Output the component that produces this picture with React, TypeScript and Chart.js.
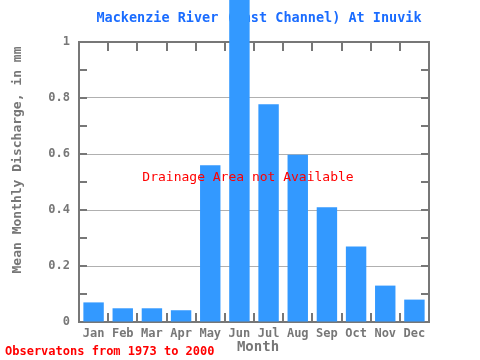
import React, { useEffect, useRef } from "react";
import { Chart, registerables } from "chart.js";

Chart.register(...registerables);

const months = ["Jan", "Feb", "Mar", "Apr", "May", "Jun", "Jul", "Aug", "Sep", "Oct", "Nov", "Dec"];
const discharge = [0.07, 0.049, 0.049, 0.042, 0.56, 1.2, 0.778, 0.597, 0.41, 0.27, 0.13, 0.08];
const titleText = "Mackenzie River (East Channel) At Inuvik";
const yTitle = "Mean Monthly Discharge, in mm";
const xTitle = "Month";
const footerText = "Observatons from 1973 to 2000";
const noteText = "Drainage Area not Available";

const MONO = "'DejaVu Sans Mono', monospace";
const AXIS = "#777777";

const decor = {
  id: "decor",
  beforeDatasetsDraw(chart: any) {
    const ctx = chart.ctx;
    const a = chart.chartArea;
    const y = chart.scales.y;
    ctx.save();
    ctx.font = `bold 13.5px ${MONO}`;
    ctx.fillStyle = "#1a6cff";
    ctx.textAlign = "center";
    ctx.textBaseline = "middle";
    ctx.fillText(titleText, 259, 18);
    ctx.strokeStyle = AXIS;
    ctx.lineWidth = 2;
    ctx.strokeRect(a.left, a.top, a.right - a.left, a.bottom - a.top);
    ctx.beginPath();
    for (let i = 0; i <= 10; i++) {
      const py = Math.round(y.getPixelForValue(i / 10));
      ctx.moveTo(a.left, py);
      ctx.lineTo(a.left + 8, py);
      ctx.moveTo(a.right, py);
      ctx.lineTo(a.right - 8, py);
    }
    const n = months.length;
    const w = (a.right - a.left) / n;
    for (let i = 0; i <= n; i++) {
      const px = Math.round(a.left + i * w);
      ctx.moveTo(px, a.bottom);
      ctx.lineTo(px, a.bottom - 9);
      ctx.moveTo(px, a.top);
      ctx.lineTo(px, a.top + 9);
    }
    ctx.stroke();
    ctx.restore();
  },
  afterDatasetsDraw(chart: any) {
    const ctx = chart.ctx;
    ctx.save();
    ctx.textBaseline = "middle";
    ctx.font = `13px ${MONO}`;
    ctx.fillStyle = "#ff0000";
    ctx.textAlign = "center";
    ctx.fillText(noteText, 248, 178);
    ctx.font = `bold 12px ${MONO}`;
    ctx.textAlign = "left";
    ctx.fillText(footerText, 5, 352);
    ctx.font = `bold 14px ${MONO}`;
    ctx.fillStyle = AXIS;
    ctx.textAlign = "center";
    ctx.fillText(xTitle, 258, 347);
    ctx.translate(18, 160);
    ctx.rotate(-Math.PI / 2);
    ctx.font = `bold 13px ${MONO}`;
    ctx.fillText(yTitle, 0, 0);
    ctx.restore();
  },
};

export default function App() {
  const ref = useRef<HTMLCanvasElement>(null);
  useEffect(() => {
    if (!ref.current) return;
    const chart = new Chart(ref.current, {
      type: "bar",
      data: {
        labels: months,
        datasets: [
          {
            data: discharge,
            backgroundColor: "#3399ff",
            borderWidth: 0,
            barPercentage: 0.7,
            categoryPercentage: 1,
            clip: false as any,
          },
        ],
      },
      options: {
        responsive: false,
        animation: false,
        devicePixelRatio: 1,
        layout: { padding: { top: 42, right: 51, left: 0, bottom: 0 } },
        plugins: { legend: { display: false }, tooltip: { enabled: false }, title: { display: false } },
        scales: {
          x: {
            grid: { display: false },
            border: { display: false },
            ticks: {
              color: AXIS,
              font: { family: MONO, size: 12, weight: "bold" },
              padding: -3,
              maxRotation: 0,
              autoSkip: false,
            },
            afterFit: (s: any) => {
              s.height = 38;
            },
          },
          y: {
            min: 0,
            max: 1,
            grid: { color: "#b0b0b0", lineWidth: 1, drawTicks: false },
            border: { display: false },
            ticks: {
              stepSize: 0.2,
              color: AXIS,
              font: { family: MONO, size: 12, weight: "bold" },
              padding: 9,
              callback: (v: any) => String(Math.round(Number(v) * 10) / 10),
            },
            afterFit: (s: any) => {
              s.width = 79;
            },
          },
        },
      },
      plugins: [decor],
    });
    return () => chart.destroy();
  }, []);
  return (
    <div style={{ position: "fixed", left: 0, top: 0, width: 480, height: 360, background: "#fff" }}>
      <canvas ref={ref} width={480} height={360} style={{ display: "block" }} />
    </div>
  );
}
